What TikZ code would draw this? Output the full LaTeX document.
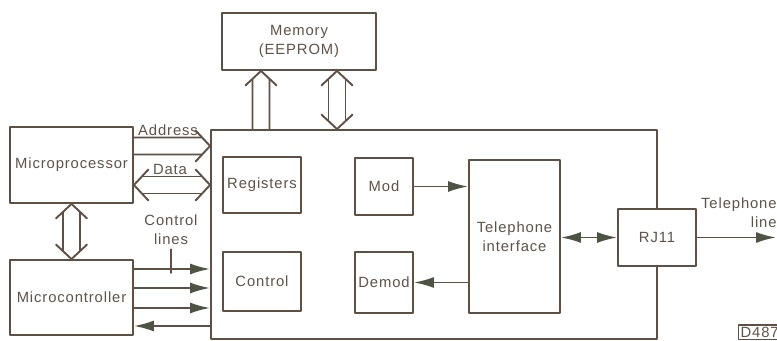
\documentclass[tikz,border=0pt]{standalone}
\usepackage{fontspec}
\setmainfont{Liberation Sans}[LetterSpace=6]
\usetikzlibrary{arrows.meta,calc,positioning}
\definecolor{MDink}{HTML}{5E5045}
\definecolor{MDhead}{HTML}{4E5443}
\definecolor{MDtext}{HTML}{5F5249}
% hollow bus arrow, head at #2
\newcommand{\busone}[2]{%
  \draw[bus] ($(#2)!6pt!45:(#1)$) -- ($(#1)!4.25pt!-90:(#2)$)
    ($(#2)!6pt!-45:(#1)$) -- ($(#1)!4.25pt!90:(#2)$);
  \draw[bus] ($(#2)!10.6pt!47:(#1)$) -- (#2) -- ($(#2)!10.6pt!-47:(#1)$);}
% hollow bus arrow, heads at both ends
\newcommand{\bustwo}[2]{%
  \draw[bus] ($(#2)!6pt!45:(#1)$) -- ($(#1)!6pt!-45:(#2)$)
    ($(#2)!6pt!-45:(#1)$) -- ($(#1)!6pt!45:(#2)$);
  \draw[bus] ($(#2)!10.6pt!47:(#1)$) -- (#2) -- ($(#2)!10.6pt!-47:(#1)$);
  \draw[bus] ($(#1)!10.6pt!47:(#2)$) -- (#1) -- ($(#1)!10.6pt!-47:(#2)$);}
\begin{document}
\begin{tikzpicture}[
  x=0.5pt,y=-0.5pt,
  font=\fontsize{7.4}{9.5}\selectfont,
  line cap=round,line join=round,
  blk/.style={draw=MDink,line width=0.95pt,fill=white,align=center,
    inner sep=0pt,text=MDtext},
  lbl/.style={align=center,inner sep=0pt,text=MDtext},
  bus/.style={draw=MDink,line width=0.95pt},
  sig/.style={draw=MDink,line width=0.95pt,
    -{Latex[length=10pt,width=5.5pt,color=MDhead]}},
  sigboth/.style={draw=MDink,line width=0.95pt,
    {Latex[length=10pt,width=5.5pt,color=MDhead]}-{Latex[length=10pt,width=5.5pt,color=MDhead]}}
]
\useasboundingbox (0,0) rectangle (777,341);

% outer blocks
\node[blk,minimum width=61.5pt,minimum height=38pt] (mpu) at (71.5,165) {Microprocessor};
\node[blk,minimum width=61.5pt,minimum height=37.5pt] (mcu) at (71.5,297.5) {Microcontroller};
\node[blk,minimum width=77pt,minimum height=28.5pt] (mem) at (299,41.5) {Memory\\(EEPROM)};

% modem chip and its inner blocks
\node[blk,minimum width=223pt,minimum height=104.5pt] (chip) at (434,234.5) {};
\node[blk,minimum width=39pt,minimum height=28pt] (reg) at (262,185) {Registers};
\node[blk,minimum width=39pt,minimum height=29.5pt] (ctl) at (262,281.5) {Control};
\node[blk,minimum width=29pt,minimum height=28.5pt] (mod) at (384,186.5) {Mod};
\node[blk,minimum width=29pt,minimum height=30.5pt] (dem) at (384,282.5) {Demod};
\node[blk,minimum width=45.5pt,minimum height=76.5pt] (tel) at (514.5,236.5) {Telephone\\interface};
\node[blk,minimum width=39pt,minimum height=28.5pt] (rj) at (657,237.5) {RJ11};

% buses
\coordinate (mupA) at (chip.north -| 261,0);
\coordinate (mupB) at (mem.south -| 261,0);
\coordinate (mbiA) at (chip.north -| 337,0);
\coordinate (mbiB) at (mem.south -| 337,0);
\coordinate (adrA) at (mpu.east |- 0,146);
\coordinate (adrB) at (chip.west |- 0,146);
\coordinate (datA) at (mpu.east |- 0,185);
\coordinate (datB) at (chip.west |- 0,185);
\busone{mupA}{mupB}
\bustwo{mbiA}{mbiB}
\busone{adrA}{adrB}
\bustwo{datA}{datB}
\bustwo{mpu.south}{mcu.north}
\node[lbl] (adrlbl) at (168,130) {Address};
\node[lbl] (datlbl) at (170,169) {Data};

% control lines
\foreach \y in {269,288,308}
  \draw[sig] (mcu.east |- 0,\y) -- (chip.west |- 0,\y);
\draw[sig] (chip.west |- 0,326) -- (mcu.east |- 0,326);
\node[lbl] (ctllbl) at (171,230) {Control\\lines};
\draw[bus] ([yshift=-2pt]ctllbl.south) -- ([yshift=-2pt]ctllbl.south |- 0,269);

% signal path to the line
\coordinate (lineend) at (776,237.5);
\draw[sig] (mod.east) -- (mod.east -| tel.west);
\draw[sig] (tel.west |- dem.east) -- (dem.east);
\draw[sigboth] (rj.west -| tel.east) -- (rj.west);
\draw[sig] (rj.east) -- (lineend);
\node[lbl,anchor=south east,align=right] (linelbl) at (777,228) {Telephone\\line};

\node[draw=MDink,line width=0.6pt,text=MDtext,inner sep=1pt,anchor=south west] (ref) at (738,340) {D487};
\end{tikzpicture}
\end{document}
